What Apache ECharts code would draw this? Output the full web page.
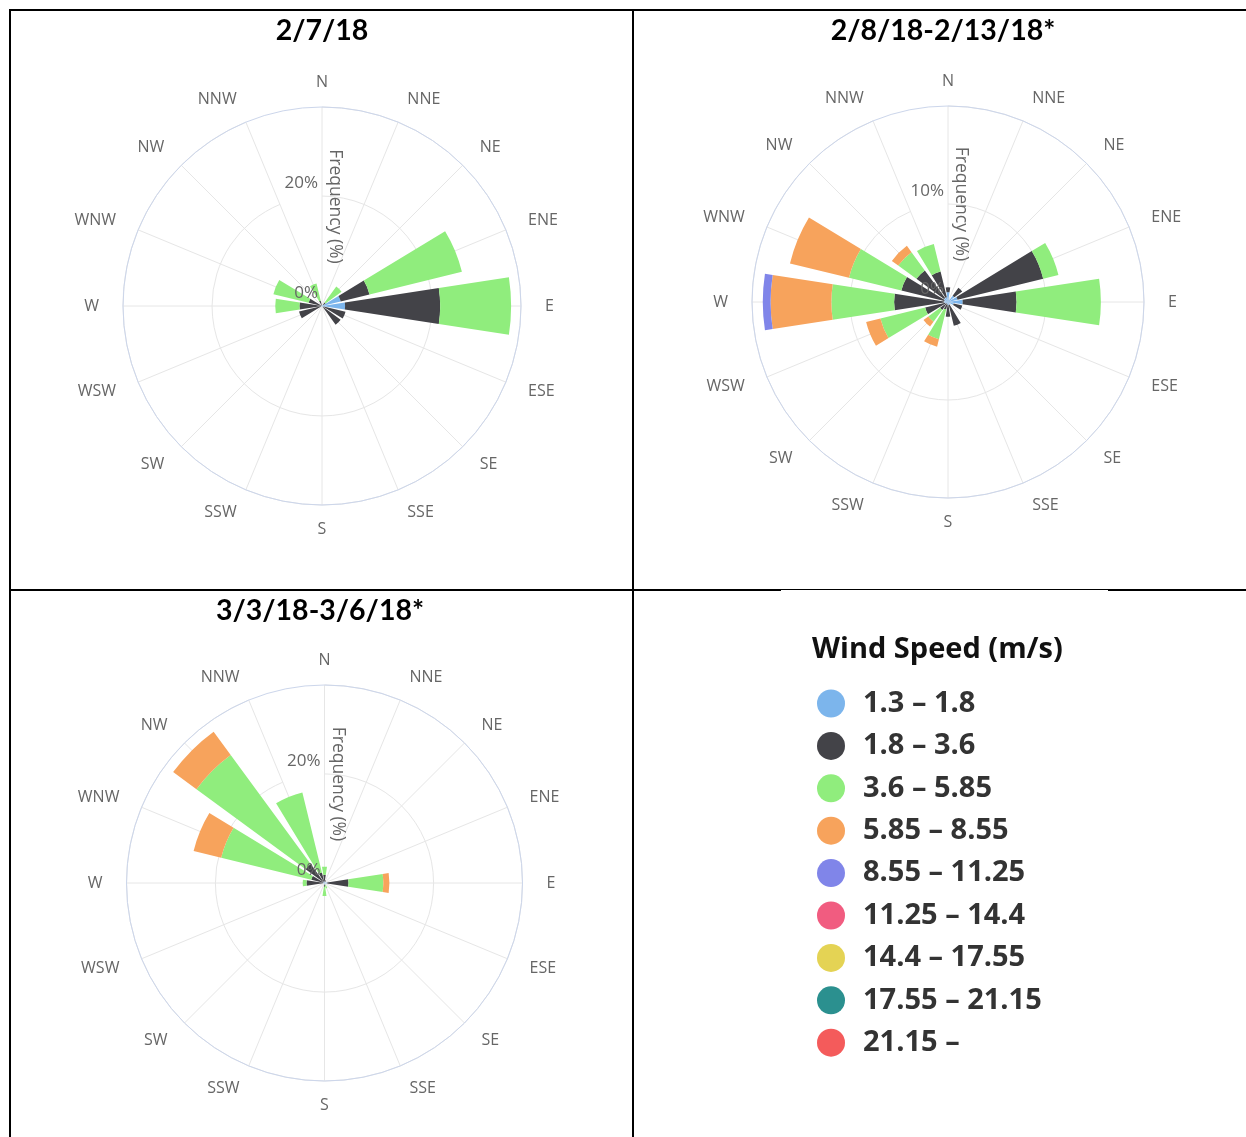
<!DOCTYPE html>
<html>
<head>
<meta charset="utf-8">
<title>Wind roses</title>
<script src="https://cdn.jsdelivr.net/npm/echarts@6/dist/echarts.min.js"></script>
<style>
  html, body { margin: 0; padding: 0; background: #fff; }
  #chart { width: 1246px; height: 1137px; }
</style>
</head>
<body>
<div id="chart"></div>
<script>
// Compass sectors, clockwise from north
const directions = ['N', 'NNE', 'NE', 'ENE', 'E', 'ESE', 'SE', 'SSE', 'S', 'SSW', 'SW', 'WSW', 'W', 'WNW', 'NW', 'NNW'];

// Wind speed classes (m/s)
const speedBins = ['1.3 – 1.8', '1.8 – 3.6', '3.6 – 5.85', '5.85 – 8.55', '8.55 – 11.25',
                   '11.25 – 14.4', '14.4 – 17.55', '17.55 – 21.15', '21.15 –'];

const panelTitles = ['2/7/18', '2/8/18-2/13/18*', '3/3/18-3/6/18*'];

// Radial frequency axis per panel (%)
const radialMax = [36.2, 20, 36.3];
const radialStep = [20, 10, 20];

// 2/7/18 — frequency (%) per direction for each speed class
const feb7Speed1 = [0, 0, 0.3, 3.5, 4.2, 0.3, 0.3, 0, 0, 0, 0, 0.2, 0.3, 0, 0, 0];
const feb7Speed2 = [0, 0, 0.5, 5.4, 17.3, 4.1, 3.9, 0, 0, 0, 0, 4.1, 3.8, 2.5, 0, 1.0];
const feb7Speed3 = [0, 0, 3.6, 17.3, 12.9, 0, 0, 0, 0, 0, 0, 0, 4.4, 6.6, 0, 3.2];

// 2/8/18-2/13/18
const febSpeed1 = [1.0, 0.3, 0.8, 1.0, 1.5, 0.6, 0.2, 0.3, 0.3, 0.2, 0.2, 0.3, 0.4, 0.4, 0.5, 0.5];
const febSpeed2 = [0.5, 0, 1.0, 9.0, 5.5, 0.9, 0, 2.2, 1.2, 0.6, 0.8, 2.1, 5.1, 4.5, 3.5, 2.7];
const febSpeed3 = [0, 0, 0, 1.6, 8.6, 0, 0, 0, 0, 3.1, 1.5, 4.7, 6.4, 5.5, 2.3, 2.9];
const febSpeed4 = [0, 0, 0, 0, 0, 0, 0, 0, 0, 0.8, 0.6, 1.5, 6.2, 6.2, 0.8, 0];
const febSpeed5 = [0, 0, 0, 0, 0, 0, 0, 0, 0, 0, 0, 0, 0.8, 0, 0, 0];

// 3/3/18-3/6/18
const marSpeed1 = [0.3, 0.2, 0, 0, 0.5, 0, 0, 0.3, 0.3, 0, 0, 0, 0.3, 0.2, 0.3, 0.2];
const marSpeed2 = [1.2, 0.3, 0, 0, 3.9, 0, 0, 0, 0.4, 0, 0, 0, 3.0, 2.3, 4.0, 1.8];
const marSpeed3 = [1.5, 0, 0, 0, 6.4, 0, 0, 0.7, 1.7, 0, 0, 0, 0.7, 17.0, 24.8, 15.1];
const marSpeed4 = [0, 0, 0, 0, 1.1, 0, 0, 0, 0, 0, 0, 0, 0, 5.2, 5.3, 0];

const roses = [
  [feb7Speed1, feb7Speed2, feb7Speed3],
  [febSpeed1, febSpeed2, febSpeed3, febSpeed4, febSpeed5],
  [marSpeed1, marSpeed2, marSpeed3, marSpeed4]
];

const palette = ['#7cb5ec', '#434348', '#90ed7d', '#f7a35c', '#8085e9',
                 '#f15c80', '#e4d354', '#2b908f', '#f45b5b'];

// Panel geometry: rose centre, radius and title position
const panels = [
  { center: [322, 306], radius: 199, titleX: 322, titleY: 31 },
  { center: [948, 302], radius: 196, titleX: 943, titleY: 31 },
  { center: [324.5, 883], radius: 198, titleX: 320, titleY: 611 }
];

const labelFont = 'Open Sans';
const gridColor = '#e6e6e6';

const polar = [], angleAxis = [], radiusAxis = [], series = [];

panels.forEach((p, i) => {
  const gridIdx = i * 2, labelIdx = i * 2 + 1;
  polar.push({ center: p.center, radius: p.radius });
  polar.push({ center: p.center, radius: p.radius });

  // grid polar: compass labels, spokes and rings
  angleAxis.push({
    polarIndex: gridIdx,
    type: 'category',
    data: directions,
    boundaryGap: false,
    startAngle: 90,
    clockwise: true,
    axisLine: { show: false },
    axisTick: { show: false },
    axisLabel: {
      margin: 24,
      lineHeight: 1,
      color: '#666',
      fontFamily: labelFont,
      fontSize: 16
    },
    splitLine: { show: true, lineStyle: { color: gridColor, width: 1 } },
    z: 0
  });
  radiusAxis.push({
    polarIndex: gridIdx,
    type: 'value',
    min: 0,
    max: radialMax[i],
    interval: radialStep[i],
    axisLine: { show: false },
    axisTick: { show: false },
    axisLabel: { show: false },
    splitLine: { show: true, showMaxLine: false, lineStyle: { color: gridColor, width: 1 } },
    z: 0
  });

  // overlay polar: full outer circle, frequency labels and axis title
  angleAxis.push({
    polarIndex: labelIdx,
    type: 'value',
    min: 0,
    max: 360,
    startAngle: 90,
    axisLine: { show: true, lineStyle: { color: '#ccd6eb', width: 1 } },
    axisTick: { show: false },
    axisLabel: { show: false },
    splitLine: { show: false },
    z: 0
  });
  radiusAxis.push({
    polarIndex: labelIdx,
    type: 'value',
    min: 0,
    max: radialMax[i],
    interval: radialStep[i],
    z: 10,
    axisLine: { show: false },
    axisTick: { show: false },
    splitLine: { show: false },
    axisLabel: {
      formatter: '{value}%',
      showMaxLabel: false,
      margin: 4,
      color: '#666',
      fontFamily: labelFont,
      fontSize: 17,
      lineHeight: 18,
      verticalAlign: 'bottom',
      padding: [0, 0, 4, 0]
    },
    name: 'Frequency (%)',
    nameLocation: 'middle',
    nameRotate: -90,
    nameGap: 4,
    nameTextStyle: { color: '#666', fontFamily: labelFont, fontSize: 17.5 }
  });

  roses[i].forEach((values, b) => {
    series.push({
      type: 'bar',
      name: speedBins[b],
      coordinateSystem: 'polar',
      polarIndex: gridIdx,
      stack: 'rose' + i,
      barWidth: '78%',
      data: values,
      itemStyle: { color: palette[b] },
      emphasis: { disabled: true },
      z: 2
    });
  });
  // remaining speed classes carry no observations in this period
  for (let b = roses[i].length; b < speedBins.length; b++) {
    series.push({
      type: 'bar',
      name: speedBins[b],
      coordinateSystem: 'polar',
      polarIndex: gridIdx,
      stack: 'rose' + i,
      barWidth: '78%',
      data: [],
      itemStyle: { color: palette[b] }
    });
  }
});

// Table rules framing the panels
const rule = (x1, y1, x2, y2, w) => ({
  type: 'line', silent: true,
  shape: { x1, y1, x2, y2 },
  style: { stroke: '#000', lineWidth: w }
});

const graphic = [
  rule(9, 10, 1246, 10, 2),
  rule(10, 9, 10, 1137, 2),
  rule(633, 9, 633, 1137, 2),
  rule(9, 590, 781, 590, 2),
  rule(781, 589.5, 1108, 589.5, 1),
  rule(1108, 590, 1246, 590, 2)
];
panels.forEach((p, i) => {
  graphic.push({
    type: 'text', x: p.titleX, y: p.titleY, silent: true,
    style: { text: panelTitles[i], font: 'bold 28.5px Lato', fill: '#000', align: 'center', verticalAlign: 'middle' }
  });
});
graphic.push({
  type: 'text', x: 812, y: 650, silent: true,
  style: { text: 'Wind Speed (m/s)', font: 'bold 29px "Open Sans"', fill: '#111', align: 'left', verticalAlign: 'middle' }
});

const chart = echarts.init(document.getElementById('chart'), null, { renderer: 'canvas' });
chart.setOption({
  animation: false,
  backgroundColor: '#fff',
  polar,
  angleAxis,
  radiusAxis,
  legend: {
    data: speedBins,
    orient: 'vertical',
    left: 817,
    top: 689,
    padding: 0,
    itemGap: 13.4,
    itemWidth: 28,
    itemHeight: 28,
    icon: 'circle',
    selectedMode: false,
    textStyle: {
      fontFamily: labelFont,
      fontSize: 29,
      fontWeight: 'bold',
      color: '#333',
      lineHeight: 28,
      padding: [0, 0, 0, 13]
    }
  },
  graphic,
  series
});
</script>
</body>
</html>
